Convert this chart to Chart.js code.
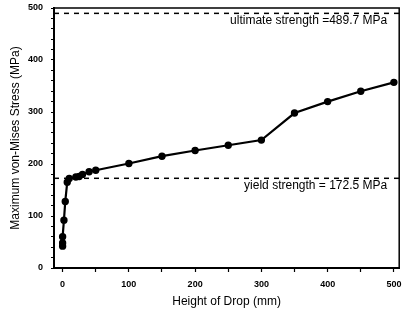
<!DOCTYPE html>
<html>
<head>
<meta charset="utf-8">
<script src="https://cdn.jsdelivr.net/npm/chart.js@4.4.1/dist/chart.umd.min.js"></script>
<style>
  html, body { margin: 0; padding: 0; background: #fff; }
  #wrap { width: 404px; height: 310px; }
</style>
</head>
<body>
<div id="wrap"><canvas id="stressChart" width="404" height="310"></canvas></div>
<script>
// drop height (mm) and max von-Mises stress (MPa)
var dropHeight = [0, 0, 0, 2, 4, 7, 10, 20, 25, 30, 40, 50, 100, 150, 200, 250, 300, 350, 400, 450, 500];
var maxStress = [42, 48, 60, 92, 128, 165, 172, 175, 176, 180, 185, 188, 201, 215, 226, 236, 246, 298, 320, 340, 357];

var ultimateStrength = 489.7;
var yieldStrength = 172.5;
var ultimateLabel = "ultimate strength =489.7 MPa";
var yieldLabel = "yield strength = 172.5 MPa";

var xRange = [-13, 508];
var yRange = [0, 500];
var xTicks = [0, 50, 100, 150, 200, 250, 300, 350, 400, 450, 500];
var yTicks = [0, 20, 40, 60, 80, 100, 120, 140, 160, 180, 200, 220, 240, 260, 280, 300, 320, 340, 360, 380, 400, 420, 440, 460, 480, 500];

var fontFam = "'Liberation Sans', Arial, sans-serif";

// labels may overflow the plot box, the layout padding handles it
function noOverflowPad(s) {
  s.paddingTop = 0;
  s.paddingBottom = 0;
  s.paddingLeft = 0;
  s.paddingRight = 0;
}

// frame + strength labels
var framePlugin = {
  id: "frame",
  afterDatasetsDraw: function(chart) {
    var ctx = chart.ctx;
    var a = chart.chartArea;
    var y = chart.scales.y;
    ctx.save();
    ctx.strokeStyle = "#000";
    ctx.lineWidth = 1.5;
    ctx.strokeRect(a.left, a.top, a.right - a.left, a.bottom - a.top);

    ctx.fillStyle = "#000";
    ctx.font = "12px " + fontFam;
    ctx.textAlign = "right";
    ctx.textBaseline = "middle";
    ctx.fillText(ultimateLabel, a.right - 12, y.getPixelForValue(ultimateStrength) + 7);
    ctx.fillText(yieldLabel, a.right - 12, y.getPixelForValue(yieldStrength) + 7);
    ctx.restore();
  }
};

var ctx = document.getElementById("stressChart").getContext("2d");

new Chart(ctx, {
  type: "scatter",
  data: {
    datasets: [{
      data: dropHeight.map(function(h, i) { return { x: h, y: maxStress[i] }; }),
      showLine: true,
      borderColor: "#000",
      backgroundColor: "#000",
      borderWidth: 2.2,
      pointRadius: 2.6,
      pointHoverRadius: 2.6
    }, {
      data: [{ x: xRange[0], y: ultimateStrength }, { x: xRange[1], y: ultimateStrength }],
      showLine: true,
      borderColor: "#000",
      borderWidth: 1.5,
      borderDash: [5, 5],
      pointRadius: 0
    }, {
      data: [{ x: xRange[0], y: yieldStrength }, { x: xRange[1], y: yieldStrength }],
      showLine: true,
      borderColor: "#000",
      borderWidth: 1.5,
      borderDash: [5, 5],
      pointRadius: 0
    }]
  },
  options: {
    responsive: false,
    animation: false,
    layout: { padding: { top: 8, right: 2, left: 0, bottom: 0 } },
    plugins: {
      legend: { display: false },
      tooltip: { enabled: false }
    },
    scales: {
      x: {
        type: "linear",
        min: xRange[0],
        max: xRange[1],
        afterBuildTicks: function(s) { s.ticks = xTicks.map(function(v) { return { value: v }; }); },
        afterFit: function(s) { s.height = 42; noOverflowPad(s); },
        grid: { display: true, drawOnChartArea: false, drawTicks: true, tickLength: 4, color: "#000", tickWidth: 1.2 },
        border: { display: true, color: "#000", width: 2 },
        ticks: {
          color: "#000",
          font: { family: fontFam, size: 9, weight: "bold" },
          padding: 7,
          maxRotation: 0,
          autoSkip: false,
          callback: function(v) { return v % 100 === 0 ? v : ""; }
        },
        title: {
          display: true,
          text: "Height of Drop (mm)",
          color: "#000",
          font: { family: fontFam, size: 12 },
          padding: { top: 4, bottom: 1 }
        }
      },
      y: {
        min: yRange[0],
        max: yRange[1],
        afterBuildTicks: function(s) { s.ticks = yTicks.map(function(v) { return { value: v }; }); },
        afterFit: function(s) { s.width = 54; noOverflowPad(s); },
        grid: { display: true, drawOnChartArea: false, drawTicks: true, tickLength: 3, color: "#000", tickWidth: 1 },
        border: { display: true, color: "#000", width: 2 },
        ticks: {
          color: "#000",
          font: { family: fontFam, size: 9, weight: "bold" },
          padding: 8,
          autoSkip: false,
          callback: function(v) { return v % 100 === 0 ? v : ""; }
        },
        title: {
          display: true,
          text: "Maximum von-Mises Stress (MPa)",
          color: "#000",
          font: { family: fontFam, size: 12 },
          padding: { top: 8, bottom: 2 }
        }
      }
    }
  },
  plugins: [framePlugin]
});
</script>
</body>
</html>
